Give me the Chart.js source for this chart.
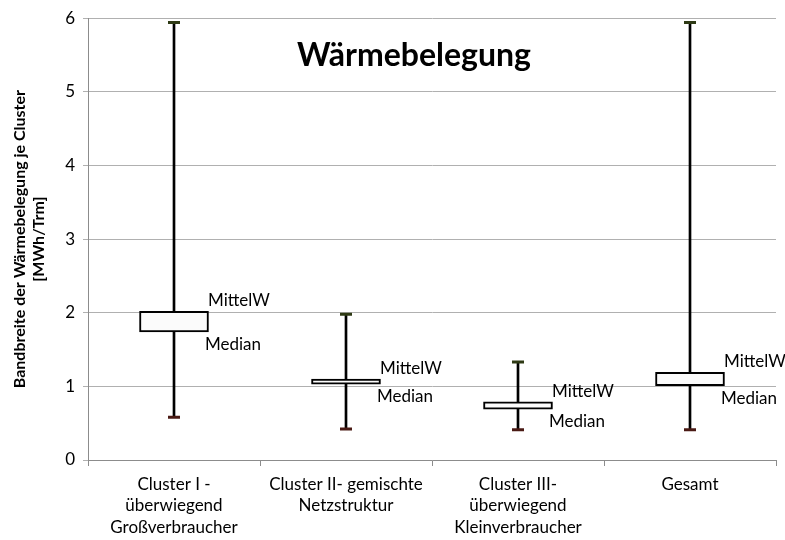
<!DOCTYPE html>
<html>
<head>
<meta charset="utf-8">
<script src="https://cdn.jsdelivr.net/npm/chart.js@4/dist/chart.umd.min.js"></script>
<style>
html,body{margin:0;padding:0;background:#fff;}
#wrap{width:785px;height:540px;position:relative;}
</style>
</head>
<body>
<div id="wrap"><canvas id="c" width="785" height="540"></canvas></div>
<script>
const categories = [
  ["Cluster I -", "überwiegend", "Großverbraucher"],
  ["Cluster II- gemischte", "Netzstruktur"],
  ["Cluster III-", "überwiegend", "Kleinverbraucher"],
  ["Gesamt"]
];
const maxVals = [5.94, 1.98, 1.33, 5.94];
const minVals = [0.58, 0.42, 0.41, 0.41];
const medianVals = [1.74, 1.03, 0.69, 1.01];
const meanVals = [2.02, 1.10, 0.79, 1.19];
const yTicks = [0, 1, 2, 3, 4, 5, 6];
const chartTitle = "Wärmebelegung";
const yTitle = ["Bandbreite der Wärmebelegung je Cluster", "[MWh/Trm]"];
const meanLabel = "MittelW";
const medianLabel = "Median";

const FONT = "Lato, 'Open Sans', sans-serif";

const overlayPlugin = {
  id: 'overlay',
  afterDatasetsDraw(chart) {
    const ctx = chart.ctx;
    const xs = chart.scales.x, ys = chart.scales.y;
    ctx.save();
    ctx.fillStyle = '#000';
    ctx.font = "17px " + FONT;
    ctx.textAlign = 'left';
    for (let i = 0; i < categories.length; i++) {
      const x = xs.getPixelForValue(i);
      ctx.textBaseline = 'bottom';
      ctx.fillText(meanLabel, x + 34, ys.getPixelForValue(meanVals[i]) - 2);
      ctx.textBaseline = 'top';
      ctx.fillText(medianLabel, x + 31, ys.getPixelForValue(medianVals[i]) + 4);
    }
    ctx.font = "bold 32px " + FONT;
    ctx.textAlign = 'center';
    ctx.textBaseline = 'middle';
    ctx.fillText(chartTitle, 414, 56);
    ctx.restore();
  }
};

new Chart(document.getElementById('c'), {
  type: 'bar',
  data: {
    labels: categories,
    datasets: [
      {
        label: 'Spannweite',
        data: minVals.map((v, i) => [v, maxVals[i]]),
        backgroundColor: '#000',
        borderWidth: 0,
        barThickness: 2,
        grouped: false,
        order: 3
      },
      {
        label: 'Median-MittelW',
        data: medianVals.map((v, i) => [v, meanVals[i]]),
        backgroundColor: '#fbfbfb',
        borderColor: '#000',
        borderWidth: 2,
        borderSkipped: false,
        barThickness: 69,
        grouped: false,
        order: 2
      },
      {
        type: 'line',
        label: 'Max',
        data: maxVals,
        showLine: false,
        pointStyle: 'line',
        pointRadius: 6,
        pointBorderWidth: 3,
        borderColor: '#2e3a14',
        backgroundColor: '#2e3a14',
        order: 1
      },
      {
        type: 'line',
        label: 'Min',
        data: minVals,
        showLine: false,
        pointStyle: 'line',
        pointRadius: 6,
        pointBorderWidth: 3,
        borderColor: '#4a1a14',
        backgroundColor: '#4a1a14',
        order: 1
      }
    ]
  },
  options: {
    responsive: false,
    animation: false,
    devicePixelRatio: 1,
    layout: { padding: { left: 11, right: 8, top: 15, bottom: 0 } },
    plugins: { legend: { display: false }, tooltip: { enabled: false }, title: { display: false } },
    scales: {
      x: {
        offset: true,
        grid: { display: true, drawOnChartArea: false, drawTicks: true, tickLength: 6, offset: true, color: '#8c8c8c' },
        border: { color: '#8c8c8c', width: 1 },
        ticks: { color: '#000', font: { family: FONT, size: 17, lineHeight: 1.25 }, padding: 8, maxRotation: 0, autoSkip: false },
        afterFit(s) { s.height = 80; }
      },
      y: {
        min: 0, max: 6,
        afterBuildTicks(s) { s.ticks = yTicks.map(v => ({ value: v })); },
        grid: { color: '#b0b0b0', tickLength: 5 },
        border: { color: '#8c8c8c', width: 1 },
        ticks: { color: '#000', font: { family: FONT, size: 17 }, padding: 8 },
        title: { display: true, text: yTitle, color: '#000', font: { family: FONT, size: 16, weight: 'bold', lineHeight: 1.15 }, padding: 0 },
        afterFit(s) { s.width = 77; }
      }
    }
  },
  plugins: [overlayPlugin]
});
</script>
</body>
</html>
